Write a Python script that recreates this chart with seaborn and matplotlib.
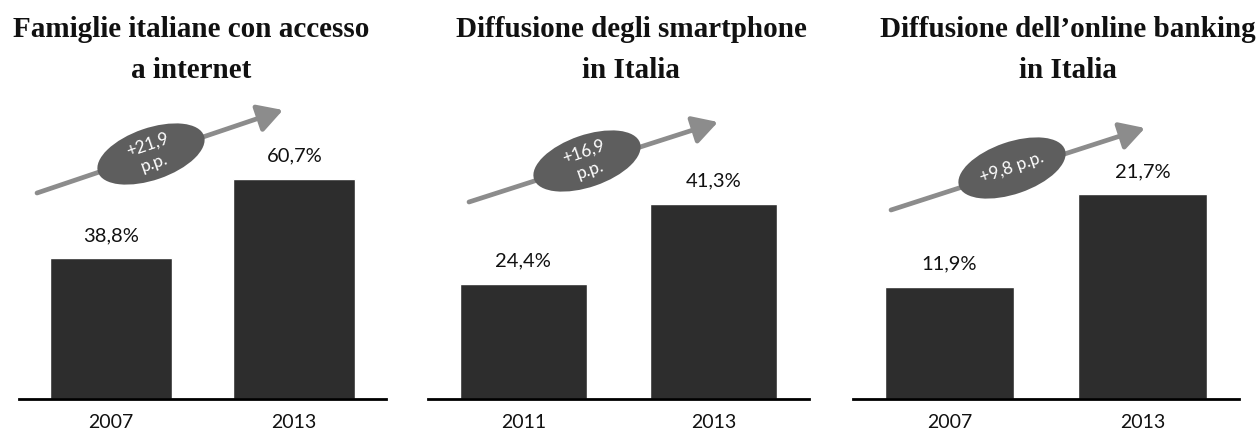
import matplotlib
matplotlib.use("Agg")
import seaborn as sns
from matplotlib import pyplot as plt
from matplotlib.patches import Ellipse, FancyArrowPatch

# --- data -------------------------------------------------------------
titles = [
    "Famiglie italiane con accesso\na internet",
    "Diffusione degli smartphone\nin Italia",
    "Diffusione dell\u2019online banking\nin Italia",
]
years = [["2007", "2013"], ["2011", "2013"], ["2007", "2013"]]
values = [[38.8, 60.7], [24.4, 41.3], [11.9, 21.7]]
growth_labels = ["+21,9\np.p.", "+16,9\np.p.", "+9,8 p.p."]
y_max = [82.5, 63.2, 31.7]

# --- layout (reference pixels, 1259x437) --------------------------------
W, H = 1259, 437
axes_px = [(19, 386), (428, 809), (853, 1239)]   # left / right of each panel
axes_top, axes_bottom = 100, 399
title_x = [191, 631, 1068]
# arrow tail, arrow head, ellipse centre
arrows_px = [
    ((37, 193), (283, 110), (151, 154)),
    ((469, 202), (718, 122), (587, 161)),
    ((891, 210), (1145, 128), (1012, 168)),
]

BAR = "#2d2d2d"
ARROW = "#8c8c8c"
BADGE = "#5e5e5e"

sns.set_theme(style="white")
plt.rcParams["font.family"] = ["Lato", "DejaVu Sans"]

fig = plt.figure(figsize=(W / 100, H / 100), dpi=100)


def px(x, y):
    """Reference pixel -> inches from bottom-left of the figure."""
    return x / 100, (H - y) / 100


for i in range(3):
    left, right = axes_px[i]
    ax = fig.add_axes([
        left / W,
        (H - axes_bottom) / H,
        (right - left) / W,
        (axes_bottom - axes_top) / H,
    ])
    sns.barplot(x=years[i], y=values[i], color=BAR, saturation=1,
                width=0.667, ax=ax)
    ax.set_xlim(-0.5, 1.5)
    ax.set_ylim(0, y_max[i])
    ax.set_yticks([])
    ax.set_ylabel("")
    ax.set_xlabel("")
    sns.despine(ax=ax, left=True)
    ax.spines["bottom"].set_color("black")
    ax.spines["bottom"].set_linewidth(2)
    ax.tick_params(axis="x", length=0, pad=11, labelsize=14, colors="#111111")

    for j, v in enumerate(values[i]):
        ax.annotate(f"{v:.1f}".replace(".", ",") + "%", (j, v),
                    xytext=(0, 16.5), textcoords="offset points",
                    ha="center", va="center", fontsize=14.5, color="#111111")

    fig.text(title_x[i] / W, 1 - 50 / H, titles[i], ha="center", va="center",
             fontsize=21, fontweight="bold", family="Liberation Serif",
             linespacing=1.62, color="#111111")

    tail, head, centre = arrows_px[i]
    fig.patches.append(FancyArrowPatch(
        px(*tail), px(*head), transform=fig.dpi_scale_trans,
        arrowstyle="-|>,head_length=0.15,head_width=0.085",
        mutation_scale=100, color=ARROW, linewidth=3.4,
        shrinkA=0, shrinkB=0))
    fig.patches.append(Ellipse(px(*centre), 1.12, 0.52, angle=19,
                               transform=fig.dpi_scale_trans,
                               facecolor=BADGE, edgecolor="none"))
    cx, cy = px(*centre)
    fig.text(cx / (W / 100), cy / (H / 100), growth_labels[i],
             ha="center", va="center", rotation=19, rotation_mode="anchor",
             fontsize=12.5, color="white", linespacing=1.2)

fig.savefig("out.png", dpi=100)
